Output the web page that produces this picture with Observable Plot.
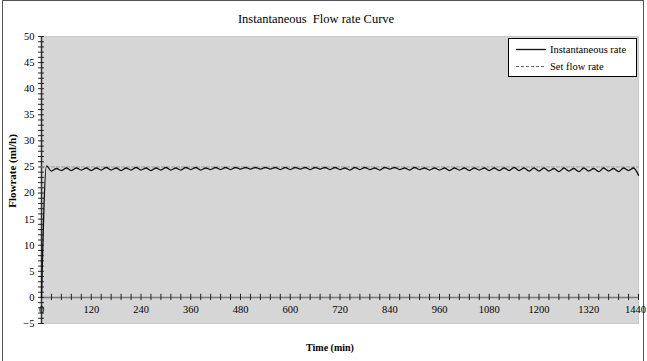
<!DOCTYPE html>
<html>
<head>
<meta charset="utf-8">
<script src="https://cdn.jsdelivr.net/npm/d3@7"></script>
<script src="https://cdn.jsdelivr.net/npm/@observablehq/plot@0.6"></script>
<style>
  body { margin: 0; background: #fff; }
  #wrap { position: relative; width: 647px; height: 361px; overflow: hidden; font-family: "Liberation Serif", "Times New Roman", serif; }
  #frameBox { position: absolute; left: 2px; top: 0px; width: 640px; height: 370px; border: 1px solid #555; pointer-events: none; }
  #chart { position: absolute; left: 0; top: 0; }
  #legend { position: absolute; left: 508px; top: 38px; width: 127px; height: 37px; border: 1px solid #000; background: #fff; }
</style>
</head>
<body>
<div id="wrap">
  <div id="frameBox"></div>
  <div id="chart"></div>
  <div id="legend"></div>
</div>
<script>
const title = "Instantaneous  Flow rate Curve";
const xTitle = "Time (min)";
const yTitle = "Flowrate (ml/h)";
const seriesNames = ["Instantaneous rate", "Set flow rate"];

const xTickLabels = [0, 120, 240, 360, 480, 600, 720, 840, 960, 1080, 1200, 1320, 1440];
const yTickLabels = [-5, 0, 5, 10, 15, 20, 25, 30, 35, 40, 45, 50];

const times = [
  0, 12, 24, 36, 48, 60, 72, 84, 96, 108,
  120, 132, 144, 156, 168, 180, 192, 204, 216, 228,
  240, 252, 264, 276, 288, 300, 312, 324, 336, 348,
  360, 372, 384, 396, 408, 420, 432, 444, 456, 468,
  480, 492, 504, 516, 528, 540, 552, 564, 576, 588,
  600, 612, 624, 636, 648, 660, 672, 684, 696, 708,
  720, 732, 744, 756, 768, 780, 792, 804, 816, 828,
  840, 852, 864, 876, 888, 900, 912, 924, 936, 948,
  960, 972, 984, 996, 1008, 1020, 1032, 1044, 1056, 1068,
  1080, 1092, 1104, 1116, 1128, 1140, 1152, 1164, 1176, 1188,
  1200, 1212, 1224, 1236, 1248, 1260, 1272, 1284, 1296, 1308,
  1320, 1332, 1344, 1356, 1368, 1380, 1392, 1404, 1416, 1428,
  1440
];
const rates = [
  0, 25.2, 24.2, 24.7, 24.3, 24.8, 24.3, 24.8, 24.4, 24.8,
  24.3, 24.8, 24.4, 24.9, 24.4, 24.8, 24.3, 24.8, 24.4, 24.9,
  24.4, 24.8, 24.3, 24.8, 24.4, 24.9, 24.4, 24.8, 24.4, 24.9,
  24.5, 24.9, 24.4, 24.8, 24.5, 24.9, 24.5, 24.9, 24.5, 24.9,
  24.6, 24.9, 24.6, 24.9, 24.6, 24.9, 24.6, 24.9, 24.5, 24.9,
  24.5, 24.9, 24.6, 24.9, 24.5, 24.9, 24.6, 24.9, 24.5, 24.9,
  24.5, 24.8, 24.4, 24.9, 24.5, 24.9, 24.5, 24.8, 24.4, 24.9,
  24.6, 24.9, 24.5, 24.8, 24.4, 24.9, 24.5, 24.8, 24.4, 24.8,
  24.4, 24.8, 24.3, 24.8, 24.4, 24.8, 24.3, 24.8, 24.4, 24.8,
  24.3, 24.8, 24.3, 24.8, 24.3, 24.9, 24.3, 24.8, 24.2, 24.8,
  24.2, 24.8, 24.2, 24.7, 24.1, 24.8, 24.2, 24.7, 24.1, 24.8,
  24.2, 24.7, 24.1, 24.8, 24.2, 24.7, 24.1, 24.8, 24.3, 24.8,
  23.4
];
const setRate = 25;
const xDomain = [0, 1440];

const inst = times.map((t, i) => ({t, v: rates[i]}));
const setLine = xDomain.map(t => ({t, v: setRate}));
const lastLabel = xTickLabels[xTickLabels.length - 1];
const innerLabels = xTickLabels.filter(d => d !== lastLabel);

const serif = "Liberation Serif, Times New Roman, serif";

const chart = Plot.plot({
  width: 647,
  height: 361,
  marginLeft: 41,
  marginRight: 9,
  marginTop: 36,
  marginBottom: 38,
  style: {fontFamily: serif, fontSize: "10.5px", background: "transparent", color: "#000", overflow: "visible"},
  x: {domain: xDomain, axis: null},
  y: {domain: [-5, 50], axis: null},
  marks: [
    Plot.frame({fill: "#d6d6d6", stroke: "#c8c8c8"}),
    Plot.ruleY([0], {x1: 0, x2: 1440, stroke: "#7a7a7a", strokeWidth: 1.5}),
    Plot.ruleX(d3.range(0, 1441, 24), {y1: -0.6, y2: 0.6, stroke: "#222", strokeWidth: 1}),
    Plot.ruleX([0], {y1: -5, y2: 50, stroke: "#333", strokeWidth: 1.5}),
    Plot.ruleY(d3.range(-5, 51, 1), {x1: -7, x2: 7, stroke: "#222", strokeWidth: 1}),
    Plot.axisY({ticks: yTickLabels, tickSize: 0, tickPadding: 7, fontSize: 10.5, fontFamily: serif, label: null}),
    Plot.text(innerLabels, {x: d => d, y: 0, dy: 12, text: d => String(d), fontSize: 10.5, fontFamily: serif}),
    Plot.text([lastLabel], {x: d => d, y: 0, dy: 12, dx: -3, text: d => String(d), fontSize: 10.5, fontFamily: serif}),
    Plot.line(setLine, {x: "t", y: "v", stroke: "#9a9a9a", strokeWidth: 1, strokeDasharray: "3,2"}),
    Plot.line(inst, {x: "t", y: "v", stroke: "#111", strokeWidth: 1.3, curve: "monotone-x"}),
    Plot.text([title], {frameAnchor: "top", text: d => d, dy: -22, dx: -24, fontSize: 12.5, fontFamily: serif}),
    Plot.text([xTitle], {frameAnchor: "bottom", text: d => d, dy: 27, dx: -10, fontSize: 10, fontWeight: "bold", fontFamily: serif}),
    Plot.text([yTitle], {frameAnchor: "left", textAnchor: "middle", text: d => d, dx: -29, dy: -9, rotate: -90, fontSize: 11, fontWeight: "bold", fontFamily: serif})
  ]
});
document.getElementById("chart").appendChild(chart);

// Legend
const legend = document.getElementById("legend");
legend.innerHTML = `
<svg width="127" height="37" style="display:block;font-family:${serif};font-size:10.5px">
  <line x1="7" x2="37" y1="10.5" y2="10.5" stroke="#111" stroke-width="1.3"></line>
  <text x="41" y="14">${seriesNames[0]}</text>
  <line x1="7" x2="37" y1="27.5" y2="27.5" stroke="#666" stroke-width="1" stroke-dasharray="3,2"></line>
  <text x="41" y="31">${seriesNames[1]}</text>
</svg>`;
</script>
</body>
</html>
